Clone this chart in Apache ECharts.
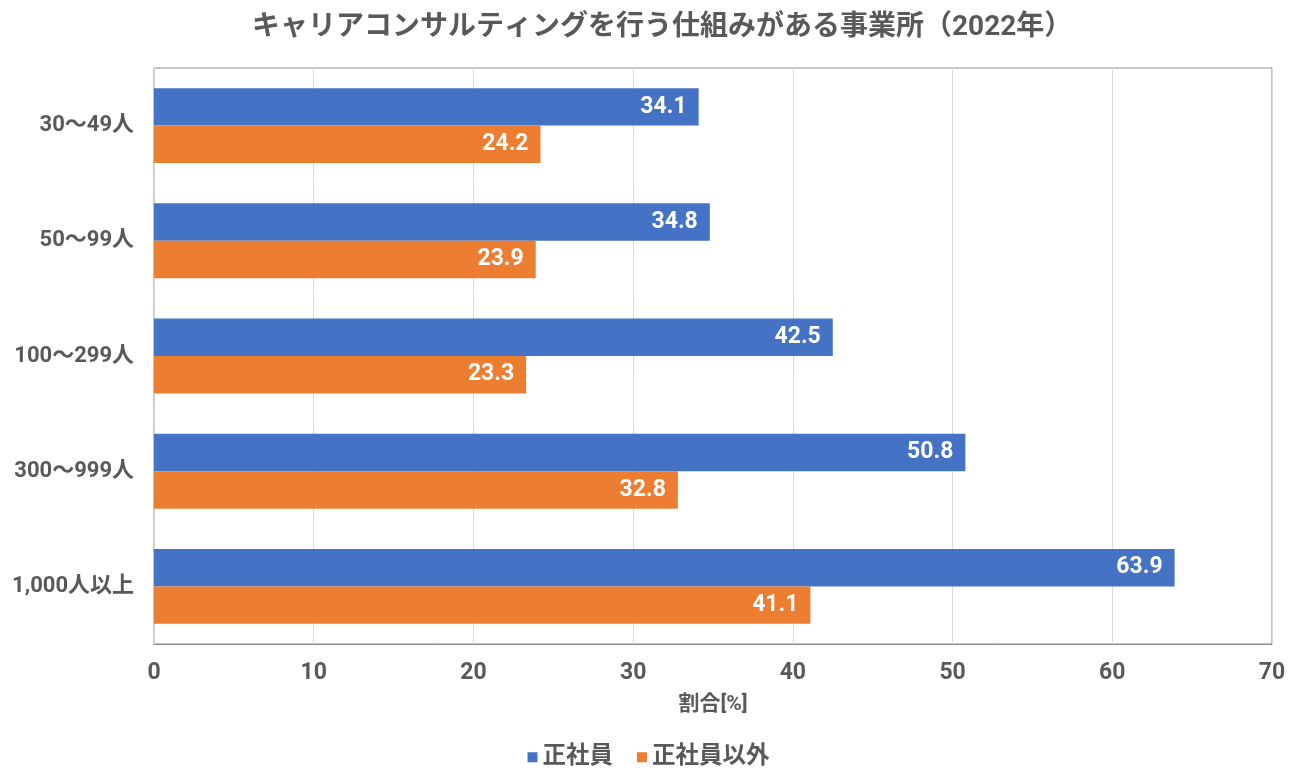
<!DOCTYPE html>
<html><head><meta charset="utf-8">
<script src="https://cdn.jsdelivr.net/npm/echarts@6/dist/echarts.min.js"></script>
<style>html,body{margin:0;padding:0;background:#fff}#c{width:1297px;height:775px}</style>
</head><body><div id="c"></div>
<script>
const categories = ['30〜49人','50〜99人','100〜299人','300〜999人','1,000人以上'];
const seriesNames = ['正社員','正社員以外'];
const regular = [34.1, 34.8, 42.5, 50.8, 63.9];
const nonRegular = [24.2, 23.9, 23.3, 32.8, 41.1];
const xTicks = {min: 0, max: 70, interval: 10};

const FONT = 'Roboto, "Noto Sans CJK JP", sans-serif';
const TXT = '#595959';
const chart = echarts.init(document.getElementById('c'));
const lbl = {show:true, position:'insideRight', color:'#fff', fontWeight:'bold', fontSize:23, fontFamily:FONT, distance:12, formatter:p=>p.value.toFixed(1)};
chart.setOption({
  animation:false,
  title:{text:'キャリアコンサルティングを行う仕組みがある事業所（2022年）', left:247, top:9,
    textStyle:{fontFamily:FONT, fontSize:28, fontWeight:'bold', color:TXT}},
  legend:{bottom:1, left:'center', itemWidth:10, itemHeight:10, itemGap:24, icon:'rect',
    textStyle:{fontFamily:FONT, fontSize:23.5, fontWeight:'bold', color:TXT}},
  grid:{left:154, right:25, top:68, bottom:131, show:true, borderColor:'#8c8c8c', borderWidth:1, outerBoundsMode:'none', containLabel:false},
  xAxis:{type:'value', min:xTicks.min, max:xTicks.max, interval:xTicks.interval,
    name:'割合[%]', nameLocation:'middle', nameGap:50,
    nameTextStyle:{fontFamily:FONT, fontSize:21, fontWeight:'bold', color:TXT},
    axisLine:{show:true, lineStyle:{color:'#8c8c8c'}}, axisTick:{show:false},
    axisLabel:{fontFamily:FONT, fontSize:23, fontWeight:'bold', color:TXT, margin:18},
    splitLine:{lineStyle:{color:'#d9d9d9'}}},
  yAxis:{type:'category', data:categories, inverse:true,
    axisLine:{show:true, lineStyle:{color:'#d9d9d9'}}, axisTick:{show:false},
    axisLabel:{fontFamily:FONT, fontSize:22, fontWeight:'bold', color:TXT, margin:20}},
  series:[
    {name:seriesNames[0], type:'bar', data:regular, itemStyle:{color:'#4472c4'}, barGap:'0%', barCategoryGap:'35%', label:lbl},
    {name:seriesNames[1], type:'bar', data:nonRegular, itemStyle:{color:'#ed7d31'}, barGap:'0%', barCategoryGap:'35%', label:lbl}
  ]
});
</script></body></html>
